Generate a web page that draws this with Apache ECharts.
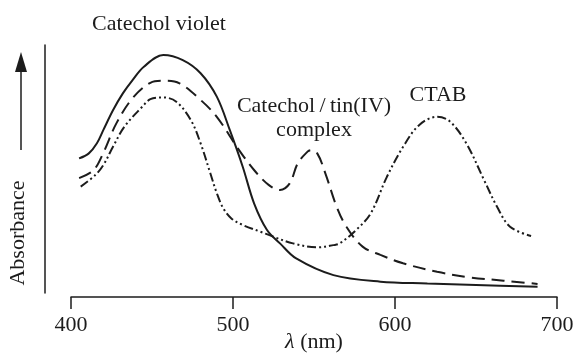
<!DOCTYPE html>
<html>
<head>
<meta charset="utf-8">
<script src="https://cdn.jsdelivr.net/npm/echarts@6/dist/echarts.min.js"></script>
<style>
  html, body { margin: 0; padding: 0; background: #fff; }
  #chart { width: 576px; height: 356px; }
</style>
</head>
<body>
<div id="chart"></div>
<script>
// wavelength ticks (nm)
var xTicks = [400, 500, 600, 700];

// Catechol violet (solid)
var violetX = [405, 411, 416, 420, 426, 432, 438, 445, 457, 469, 480, 490, 498, 506, 513, 521, 529, 539, 562, 591, 620, 650, 688];
var violetY = [55.0, 57.0, 61.0, 66.3, 74.2, 80.8, 86.1, 91.4, 96.0, 94.0, 88.8, 79.5, 66.3, 51.7, 37.2, 26.6, 21.3, 15.3, 8.7, 6.1, 5.4, 4.8, 4.1];

// Catechol/tin(IV) complex (dashed)
var complexX = [405, 414, 420, 428, 438, 449, 457, 467, 480, 490, 503, 513, 522, 529, 535, 540, 546, 548, 552, 557, 564, 570, 580, 591, 605, 626, 646, 667, 688];
var complexY = [47.2, 50.4, 57.3, 68.9, 78.9, 85.0, 85.8, 84.8, 78.2, 71.5, 59.0, 50.4, 44.5, 42.5, 45.1, 53.1, 57.7, 58.3, 57.0, 49.1, 35.8, 27.9, 20.0, 16.7, 13.4, 10.0, 7.8, 6.5, 5.2];

// CTAB (dash-dot-dot)
var ctabX = [406, 415, 420, 426, 433, 444, 449, 457, 465, 474, 480, 486, 490, 494, 499, 506, 517, 525, 537, 552, 562, 566, 576, 585, 595, 605, 615, 626, 634, 644, 655, 663, 671, 684];
var ctabY = [43.8, 48.4, 52.4, 59.7, 67.6, 75.5, 78.5, 79.2, 77.5, 70.2, 61.0, 49.1, 41.2, 35.2, 31.2, 28.6, 25.9, 23.9, 21.3, 19.7, 20.6, 21.3, 26.6, 33.2, 47.7, 59.6, 68.3, 71.5, 69.6, 61.0, 46.4, 35.8, 27.9, 24.2];

var FONT = '"Liberation Serif", "DejaVu Serif", serif';
var INK = '#1c1c1c';

function pairs(xs, ys) {
  return xs.map(function (x, i) { return [x, ys[i]]; });
}

var chart = echarts.init(document.getElementById('chart'), null, { renderer: 'canvas' });

var option = {
  animation: false,
  backgroundColor: '#fff',
  grid: { left: 71, right: 19, top: 45, bottom: 63, containLabel: false, outerBoundsMode: 'none' },
  xAxis: {
    type: 'value',
    min: xTicks[0],
    max: xTicks[xTicks.length - 1],
    interval: 100,
    offset: 4,
    axisLine: { show: true, lineStyle: { color: INK, width: 1.5 } },
    axisTick: { show: true, inside: false, length: 12, lineStyle: { color: INK, width: 1.5 } },
    axisLabel: { margin: 17, fontSize: 22, color: INK, fontFamily: FONT },
    splitLine: { show: false },
    name: '{i|λ} (nm)',
    nameLocation: 'middle',
    nameGap: 34,
    nameMoveOverlap: false,
    nameTextStyle: {
      fontSize: 22, lineHeight: 22, color: INK, fontFamily: FONT,
      rich: { i: { fontStyle: 'italic', fontSize: 22, lineHeight: 22, color: INK, fontFamily: FONT } }
    }
  },
  yAxis: {
    type: 'value',
    min: 1.6,
    max: 100,
    offset: 26,
    axisLine: { show: true, lineStyle: { color: INK, width: 1.5 } },
    axisTick: { show: false },
    axisLabel: { show: false },
    splitLine: { show: false }
  },
  series: [
    {
      name: 'Catechol violet',
      type: 'line',
      data: pairs(violetX, violetY),
      smooth: 0.35,
      showSymbol: false,
      lineStyle: { color: INK, width: 2 }
    },
    {
      name: 'Catechol/tin(IV) complex',
      type: 'line',
      data: pairs(complexX, complexY),
      smooth: 0.35,
      showSymbol: false,
      lineStyle: { color: INK, width: 2, type: [13, 7] }
    },
    {
      name: 'CTAB',
      type: 'line',
      data: pairs(ctabX, ctabY),
      smooth: 0.35,
      showSymbol: false,
      lineStyle: { color: INK, width: 2, type: [9, 3, 2, 3, 2, 3] }
    }
  ],
  graphic: [
    // curve labels
    { type: 'text', x: 159, y: 24, style: { text: 'Catechol violet', font: '22px ' + FONT, fill: INK, textAlign: 'center', textVerticalAlign: 'middle' } },
    { type: 'text', x: 314, y: 106, style: { text: 'Catechol\u2009/\u2009tin(IV)', font: '22px ' + FONT, fill: INK, textAlign: 'center', textVerticalAlign: 'middle' } },
    { type: 'text', x: 314, y: 130, style: { text: 'complex', font: '22px ' + FONT, fill: INK, textAlign: 'center', textVerticalAlign: 'middle' } },
    { type: 'text', x: 438, y: 95, style: { text: 'CTAB', font: '22px ' + FONT, fill: INK, textAlign: 'center', textVerticalAlign: 'middle' } },
    // y axis title with arrow
    { type: 'text', x: 18, y: 233, rotation: Math.PI / 2, style: { text: 'Absorbance', font: '22px ' + FONT, fill: INK, textAlign: 'center', textVerticalAlign: 'middle' } },
    { type: 'line', shape: { x1: 21, y1: 150, x2: 21, y2: 68 }, style: { stroke: INK, lineWidth: 1.5 } },
    { type: 'polygon', shape: { points: [[21, 52], [15, 72], [27, 72]] }, style: { fill: INK } }
  ]
};

chart.setOption(option);
</script>
</body>
</html>
